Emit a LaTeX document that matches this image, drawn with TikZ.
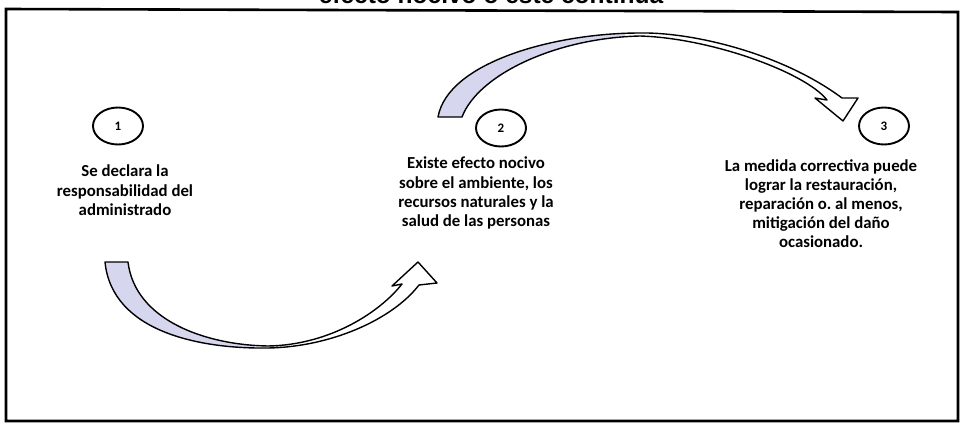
\documentclass[tikz,border=0pt]{standalone}
\usepackage{fontspec}
\setmainfont{Carlito}
\newfontfamily\titlefont{Liberation Sans}
\frenchspacing
\definecolor{lav}{RGB}{214,214,238}
\tikzset{
  numcircle/.style={draw=black, line width=1.9pt, ellipse, minimum width=50pt, minimum height=37pt, inner sep=0pt, font=\bfseries\fontsize{13}{15}\selectfont},
  steptext/.style={align=center, font=\bfseries\fontsize{16.8}{19.2}\selectfont, inner sep=0pt, anchor=north},
  blockarrow/.style={draw=black, line width=1.4pt, line join=round, fill=white},
}
\usetikzlibrary{shapes.geometric}
\begin{document}
\begin{tikzpicture}[x=1pt,y=-1pt]
\useasboundingbox (0,0) rectangle (962,426);
\clip (0,0) rectangle (962,426);
\fill[white] (0,0) rectangle (962,426);
% title (cut at the top, as in the reference)
\node[anchor=base, inner sep=0pt, font=\titlefont\bfseries\fontsize{24.5}{28}\selectfont] (title) at (491,3.5) {efecto nocivo o este continúa};
% frame
\draw[line width=2.6pt] (6,9) -- (958,12) -- (958,421) -- (6,421) -- cycle;
% numbered circles
\node[numcircle] (c1) at (118,126) {1};
\node[numcircle] (c2) at (501,128) {2};
\node[numcircle] (c3) at (884,126) {3};
% texts
\node[steptext] (t1) at (125,165) {Se declara la\\responsabilidad del\\administrado};
\node[steptext] (t2) at (476,157) {Existe efecto nocivo\\sobre el ambiente, los\\recursos naturales y la\\salud de las personas};
\node[steptext] (t3) at (821,159) {La medida correctiva puede\\lograr la restauración,\\reparación o. al menos,\\mitigación del daño\\ocasionado.};
% arrow A (1 -> 2), lower
\coordinate (aTailL) at (105,262);
\coordinate (aTailR) at (128,262);
\coordinate (aTip) at (418,262);
\def\arrowA{(aTailL) .. controls (112,332) and (200,349) .. (268,348)
  .. controls (330,347) and (392,320) .. (419,285)
  -- (437,283) -- (aTip) -- (392,286) -- (402,284)
  .. controls (380,312) and (330,345) .. (268,346)
  .. controls (205,345) and (135,320) .. (aTailR) -- cycle}
\fill[white] \arrowA;
\begin{scope}
  \clip (0,250) rectangle (255,360);
  \fill[lav] \arrowA;
\end{scope}
\draw[blockarrow, fill=none] \arrowA;
% arrow B (2 -> 3), upper
\coordinate (bTailL) at (438,117);
\coordinate (bTailR) at (462,117);
\coordinate (bTip) at (843,121);
\def\arrowB{(bTailL) .. controls (448,62) and (555,33) .. (640,33)
  .. controls (690,32) and (780,52) .. (842,98)
  -- (858,98) -- (bTip) -- (815,98) -- (827,100)
  .. controls (805,72) and (710,38) .. (640,36)
  .. controls (555,38) and (478,75) .. (bTailR) -- cycle}
\fill[white] \arrowB;
\begin{scope}
  \clip (420,20) rectangle (625,130);
  \fill[lav] \arrowB;
\end{scope}
\draw[blockarrow, fill=none] \arrowB;
\end{tikzpicture}
\end{document}
